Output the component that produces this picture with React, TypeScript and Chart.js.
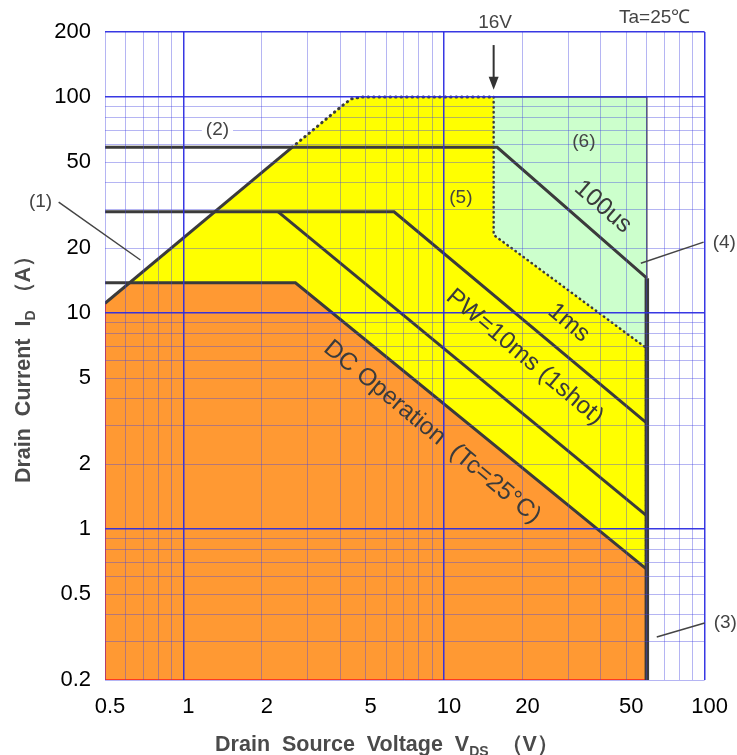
import React, { useEffect, useRef } from "react";
import { Chart, registerables } from "chart.js";

Chart.register(...registerables);

// ---- axis ticks ----
const xTickValues = [0.5, 0.6, 0.7, 0.8, 0.9, 1, 2, 3, 4, 5, 6, 7, 8, 9, 10, 20, 30, 40, 50, 60, 70, 80, 90, 100];
const xTickLabels = [0.5, 1, 2, 5, 10, 20, 50, 100];
const yTickValues = [0.2, 0.3, 0.4, 0.5, 0.6, 0.7, 0.8, 0.9, 1, 2, 3, 4, 5, 6, 7, 8, 9, 10, 20, 30, 40, 50, 60, 70, 80, 90, 100, 200];
const yTickLabels = [0.2, 0.5, 1, 2, 5, 10, 20, 50, 100, 200];
const majorTicks = [1, 10, 100, 200];

// ---- limit lines (V_DS [V], I_D [A]) ----
const rdsOnV = [0.5, 2.61];
const rdsOnI = [11.1, 58.5];
const rdsExtV = [2.61, 4.1, 4.4, 4.8, 15.5];
const rdsExtI = [58.5, 91.8, 98, 100, 100];
const pw100usV = [0.5, 16, 60];
const pw100usI = [58.5, 58.5, 14.5];
const pw1msV = [0.5, 6.43, 60];
const pw1msI = [29.4, 29.4, 3.09];
const pw10msV = [2.31, 60];
const pw10msI = [29.4, 1.15];
const dcV = [0.5, 2.69, 60];
const dcI = [13.8, 13.8, 0.65];
const vdssV = [60, 60];
const vdssI = [14.5, 0.2];
const zone6EdgeV = [15.5, 60, 60];
const zone6EdgeI = [100, 100, 14.5];
const zone6DotV = [15.5, 15.5, 59.6, 59.6];
const zone6DotI = [100, 23, 6.9, 0.65];

// ---- areas ----
const yellowV = [0.5, 2.61, 4.1, 4.4, 4.8, 15.5, 15.5, 60, 60, 0.5, 0.5];
const yellowI = [11.1, 58.5, 91.8, 98, 100, 100, 23, 6.9, 0.2, 0.2, 11.1];
const greenV = [15.5, 60, 60, 15.5, 15.5];
const greenI = [100, 100, 6.9, 23, 100];
const orangeV = [0.5, 0.5, 0.622, 2.69, 60, 60, 0.5];
const orangeI = [0.2, 11.1, 13.8, 13.8, 0.65, 0.2, 0.2];

const FONT = "'Liberation Sans', Arial, sans-serif";
const DARK = "#3b3b3b";

const pts = (vs: number[], is: number[]) => vs.map((v, k) => ({ x: v, y: is[k] }));

function lineDs(label: string, vs: number[], is: number[], extra: any = {}) {
  return {
    label,
    data: pts(vs, is),
    showLine: true,
    pointRadius: 0,
    pointHoverRadius: 0,
    borderColor: DARK,
    borderWidth: 3,
    fill: false,
    tension: 0,
    order: 0,
    ...extra,
  };
}

function areaDs(label: string, vs: number[], is: number[], color: string, order: number, extra: any = {}) {
  return {
    label,
    data: pts(vs, is),
    showLine: true,
    pointRadius: 0,
    pointHoverRadius: 0,
    borderWidth: 0,
    borderColor: "rgba(0,0,0,0)",
    backgroundColor: color,
    fill: "shape",
    tension: 0,
    order,
    ...extra,
  };
}

const rotatedLabels = [
  { text: "DC Operation  (Tc=25°C)", v: 9.0, i: 2.81, angle: 39.5 },
  { text: "PW=10ms (1shot)", v: 20.4, i: 6.25, angle: 40 },
  { text: "1ms", v: 30.1, i: 9.0, angle: 40 },
  { text: "100us", v: 40.7, i: 31.0, angle: 41 },
];

const noteLabels = [
  { text: "(1)", v: 0.283, i: 32.6, box: false },
  { text: "(2)", v: 1.35, i: 70.3, box: true },
  { text: "(5)", v: 11.6, i: 34.1, box: false },
  { text: "(6)", v: 34.4, i: 61.9, box: false },
  { text: "(4)", v: 119, i: 21.1, box: false },
  { text: "(3)", v: 120, i: 0.367, box: false },
  { text: "16V", v: 15.7, i: 220, box: false },
  { text: "Ta=25\u2103", v: 64.3, i: 232, box: false },
];

const leaders = [
  { v1: 0.332, i1: 32.6, v2: 0.684, i2: 17.6 },
  { v1: 99.1, i1: 21.3, v2: 56.9, i2: 17.0 },
  { v1: 100, i1: 0.367, v2: 65.5, i2: 0.316 },
];

const annotationPlugin = {
  id: "soaAnnotations",
  afterDraw(chart: any) {
    const ctx = chart.ctx;
    const xs = chart.scales.x;
    const ys = chart.scales.y;
    const px = (v: number) => xs.getPixelForValue(v);
    const py = (v: number) => ys.getPixelForValue(v);
    ctx.save();

    // rotated curve labels
    ctx.fillStyle = DARK;
    ctx.font = `24.5px ${FONT}`;
    ctx.textAlign = "center";
    ctx.textBaseline = "middle";
    for (const l of rotatedLabels) {
      ctx.save();
      ctx.translate(px(l.v), py(l.i));
      ctx.rotate((l.angle * Math.PI) / 180);
      ctx.fillText(l.text, 0, 0);
      ctx.restore();
    }

    // leader lines
    ctx.strokeStyle = "#444";
    ctx.lineWidth = 1.5;
    for (const l of leaders) {
      ctx.beginPath();
      ctx.moveTo(px(l.v1), py(l.i1));
      ctx.lineTo(px(l.v2), py(l.i2));
      ctx.stroke();
    }

    // note labels
    ctx.font = `19px ${FONT}`;
    for (const n of noteLabels) {
      const x = px(n.v);
      const y = py(n.i);
      if (n.box) {
        const w = ctx.measureText(n.text).width + 8;
        ctx.fillStyle = "#fff";
        ctx.fillRect(x - w / 2, y - 11, w, 22);
      }
      ctx.fillStyle = "#444";
      ctx.fillText(n.text, x, y);
    }

    // 16V arrow
    const ax = px(15.5);
    const ay1 = py(174);
    const ay2 = py(108);
    ctx.strokeStyle = "#333";
    ctx.lineWidth = 2;
    ctx.beginPath();
    ctx.moveTo(ax, ay1);
    ctx.lineTo(ax, ay2 - 10);
    ctx.stroke();
    ctx.fillStyle = "#333";
    ctx.beginPath();
    ctx.moveTo(ax - 5, ay2 - 13);
    ctx.lineTo(ax + 5, ay2 - 13);
    ctx.lineTo(ax, ay2);
    ctx.closePath();
    ctx.fill();

    // axis titles
    ctx.fillStyle = "#4a4a4a";
    ctx.textAlign = "left";
    ctx.textBaseline = "alphabetic";
    const big = `bold 21.5px ${FONT}`;
    const small = `bold 14px ${FONT}`;
    // X title
    const xParts = [
      { t: "Drain  Source  Voltage  V", f: big, dy: 0 },
      { t: "DS", f: small, dy: 5 },
      { t: "  \uFF08V\uFF09", f: big, dy: 0 },
    ];
    let total = 0;
    for (const p of xParts) {
      ctx.font = p.f;
      total += ctx.measureText(p.t).width;
    }
    let cx = 387 - total / 2;
    for (const p of xParts) {
      ctx.font = p.f;
      ctx.fillText(p.t, cx, 751 + p.dy);
      cx += ctx.measureText(p.t).width;
    }
    // Y title
    const yParts = [
      { t: "Drain  Current  I", f: big, dy: 0 },
      { t: "D", f: small, dy: 5 },
      { t: " \uFF08A\uFF09", f: big, dy: 0 },
    ];
    total = 0;
    for (const p of yParts) {
      ctx.font = p.f;
      total += ctx.measureText(p.t).width;
    }
    ctx.save();
    ctx.translate(30, 364);
    ctx.rotate(-Math.PI / 2);
    let cy = -total / 2;
    for (const p of yParts) {
      ctx.font = p.f;
      ctx.fillText(p.t, cy, p.dy);
      cy += ctx.measureText(p.t).width;
    }
    ctx.restore();

    ctx.restore();
  },
};

const isMajor = (ctx: any) => {
  const v = ctx.tick ? ctx.tick.value : 0;
  return majorTicks.some((m) => Math.abs(m - v) < 1e-9);
};
const gridColor = (ctx: any) => (isMajor(ctx) ? "rgba(45,45,225,0.95)" : "rgba(70,70,225,0.4)");
const gridWidth = (ctx: any) => (isMajor(ctx) ? 1.5 : 1);

export default function App() {
  const ref = useRef<HTMLCanvasElement | null>(null);

  useEffect(() => {
    if (!ref.current) return;
    const chart = new Chart(ref.current, {
      type: "scatter",
      data: {
        datasets: [
          lineDs("VDSS", vdssV, vdssI, { borderWidth: 4.5 }),
          lineDs("DC", dcV, dcI),
          lineDs("10ms", pw10msV, pw10msI),
          lineDs("1ms", pw1msV, pw1msI),
          lineDs("100us", pw100usV, pw100usI),
          lineDs("RDS(on)", rdsOnV, rdsOnI),
          lineDs("RDS ext", rdsExtV, rdsExtI, { borderDash: [0.5, 5], borderCapStyle: "round", borderWidth: 3 }),
          lineDs("Zone6 dotted", zone6DotV, zone6DotI, { borderDash: [0.5, 4.5], borderCapStyle: "round", borderWidth: 2.5 }),
          lineDs("Zone6 edge", zone6EdgeV, zone6EdgeI, { borderWidth: 1.5, borderColor: "#555" }),
          areaDs("Orange", orangeV, orangeI, "#FF9933", 8, { borderWidth: 1.5, borderColor: "#ff1a1a" }),
          areaDs("Green", greenV, greenI, "#CCFFCC", 9),
          areaDs("Yellow", yellowV, yellowI, "#FFFF00", 10),
        ] as any,
      },
      options: {
        responsive: false,
        animation: false,
        devicePixelRatio: 1,
        events: [],
        layout: { padding: { top: 32, right: 32, left: 0, bottom: 0 } },
        plugins: {
          legend: { display: false },
          tooltip: { enabled: false },
          title: { display: false },
        },
        scales: {
          x: {
            type: "logarithmic",
            position: "bottom",
            min: 0.5,
            max: 100,
            afterBuildTicks: (s: any) => {
              s.ticks = xTickValues.map((v) => ({ value: v }));
            },
            afterFit: (s: any) => {
              s.height = 75;
            },
            ticks: {
              autoSkip: false,
              maxRotation: 0,
              minRotation: 0,
              padding: 14,
              labelOffset: 5,
              color: "#000",
              font: { family: FONT, size: 22 },
              callback: (v: any) => (xTickLabels.some((t) => Math.abs(t - v) < 1e-9) ? String(v) : ""),
            },
            grid: { z: 1, drawTicks: false, color: gridColor, lineWidth: gridWidth },
            border: { display: false },
          },
          y: {
            type: "logarithmic",
            position: "left",
            min: 0.2,
            max: 200,
            afterBuildTicks: (s: any) => {
              s.ticks = yTickValues.map((v) => ({ value: v }));
            },
            afterFit: (s: any) => {
              s.width = 105;
            },
            ticks: {
              autoSkip: false,
              padding: 14,
              color: "#000",
              font: { family: FONT, size: 22 },
              callback: (v: any) => (yTickLabels.some((t) => Math.abs(t - v) < 1e-9) ? String(v) : ""),
            },
            grid: { z: 1, drawTicks: false, color: gridColor, lineWidth: gridWidth },
            border: { display: false },
          },
        },
      } as any,
      plugins: [annotationPlugin],
    });
    return () => chart.destroy();
  }, []);

  return (
    <div style={{ position: "fixed", left: 0, top: 0, width: 737, height: 755, background: "#fff" }}>
      <canvas ref={ref} width={737} height={755} style={{ display: "block" }} />
    </div>
  );
}
